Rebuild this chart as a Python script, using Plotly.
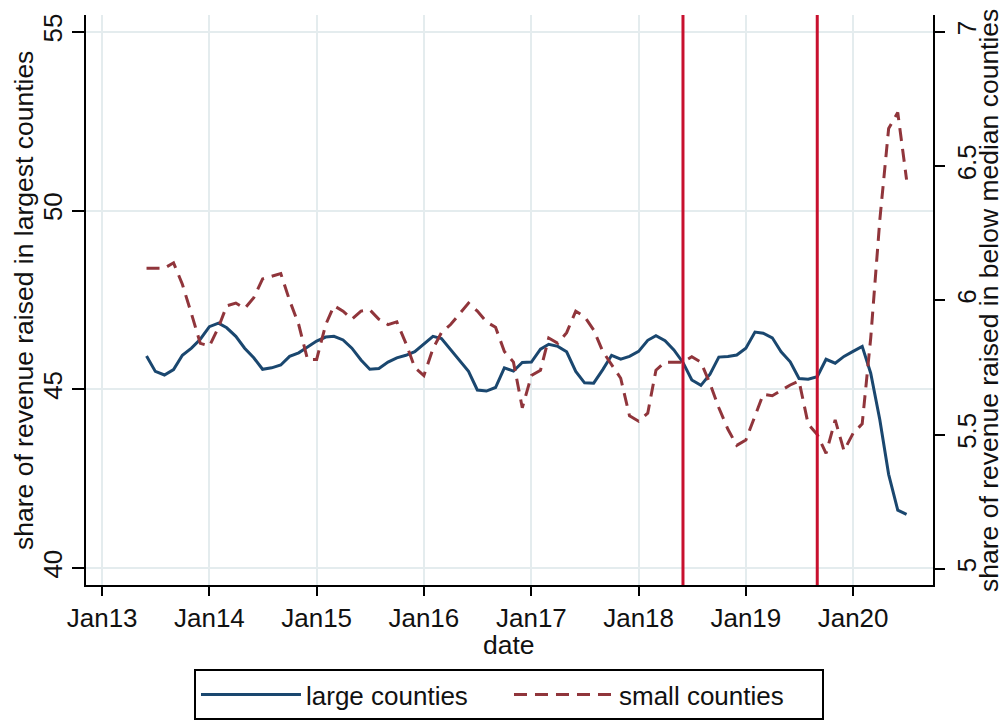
import pandas as pd
import plotly.graph_objects as go

# Monthly observations, Jun 2013 - Jul 2020
dates = pd.date_range("2013-06-01", "2020-07-01", freq="MS")

# Share of revenue raised in the largest counties (left axis)
large_counties = [
    45.93, 45.50, 45.40, 45.55, 45.95, 46.15, 46.40,                       # 2013
    46.75, 46.85, 46.72, 46.48, 46.15, 45.88, 45.56, 45.60, 45.68, 45.92, 46.02, 46.18,  # 2014
    46.35, 46.46, 46.48, 46.38, 46.15, 45.82, 45.56, 45.58, 45.76, 45.88, 45.95, 46.05,  # 2015
    46.27, 46.48, 46.42, 46.10, 45.80, 45.50, 44.98, 44.95, 45.05, 45.60, 45.51, 45.75,  # 2016
    45.76, 46.12, 46.26, 46.20, 46.05, 45.50, 45.18, 45.17, 45.55, 45.95, 45.84, 45.92,  # 2017
    46.06, 46.37, 46.50, 46.36, 46.10, 45.75, 45.26, 45.11, 45.42, 45.90, 45.92, 45.96,  # 2018
    46.15, 46.60, 46.57, 46.44, 46.05, 45.77, 45.30, 45.28, 45.35, 45.84, 45.73, 45.92,  # 2019
    46.06, 46.20, 45.45, 44.15, 42.62, 41.62, 41.50,                       # 2020
]

# Share of revenue raised in below-median counties (right axis)
small_counties = [
    6.12, 6.12, 6.12, 6.14, 6.06, 5.95, 5.84,                              # 2013
    5.83, 5.90, 5.98, 5.99, 5.97, 6.01, 6.08, 6.09, 6.10, 6.00, 5.91, 5.78,  # 2014
    5.78, 5.91, 5.98, 5.96, 5.93, 5.96, 5.965, 5.93, 5.91, 5.92, 5.84, 5.75,  # 2015
    5.72, 5.82, 5.88, 5.91, 5.95, 5.99, 5.96, 5.92, 5.90, 5.81, 5.77, 5.60,  # 2016
    5.72, 5.74, 5.86, 5.84, 5.88, 5.96, 5.94, 5.89, 5.81, 5.76, 5.71, 5.57,  # 2017
    5.55, 5.58, 5.74, 5.77, 5.77, 5.77, 5.79, 5.77, 5.69, 5.60, 5.52, 5.46,  # 2018
    5.48, 5.57, 5.65, 5.645, 5.665, 5.685, 5.70, 5.54, 5.50, 5.43, 5.555, 5.44,  # 2019
    5.505, 5.54, 5.86, 6.30, 6.64, 6.70, 6.45,                             # 2020
]

# Event markers
event_dates = ["2018-06-01", "2019-09-01"]

# Axis ticks
x_tick_dates = [f"{y}-01-01" for y in range(2013, 2021)]
x_tick_text = [f"Jan{str(y)[2:]}" for y in range(2013, 2021)]
left_ticks = [40, 45, 50, 55]
right_ticks = [5, 5.5, 6, 6.5, 7]
right_tick_text = ["5", "5.5", "6", "6.5", "7"]

# Axis titles
x_title = "date"
left_title = "share of revenue raised in largest counties"
right_title = "share of revenue raised in below median counties"

FONT = "Liberation Sans, Arial, sans-serif"
TICK_FS = 26
TITLE_FS = 26.5
LEGEND_FS = 26
NAVY = "#1A476F"
MAROON = "#90353B"
CRIMSON = "#C8102E"
GRID = "#E4ECEE"
INK = "#111111"

fig = go.Figure()
fig.add_trace(go.Scatter(
    x=dates, y=large_counties, name="large counties", mode="lines",
    line=dict(color=NAVY, width=3), yaxis="y",
))
fig.add_trace(go.Scatter(
    x=dates, y=small_counties, name="small counties", mode="lines",
    line=dict(color=MAROON, width=3, dash="13px,8px"), yaxis="y2",
))

for d in event_dates:
    fig.add_shape(type="line", xref="x", yref="paper", x0=d, x1=d, y0=0, y1=1,
                  line=dict(color=CRIMSON, width=3), layer="above")

# Axis titles placed in the margins
title_font = dict(family=FONT, size=TITLE_FS, color=INK)
fig.add_annotation(text=left_title, textangle=-90, xref="paper", yref="paper",
                   x=-0.0732, y=0.5, xanchor="center", yanchor="middle",
                   showarrow=False, font=title_font)
fig.add_annotation(text=right_title, textangle=-90, xref="paper", yref="paper",
                   x=1.0661, y=0.5, xanchor="center", yanchor="middle",
                   showarrow=False, font=title_font)
fig.add_annotation(text=x_title, xref="paper", yref="paper",
                   x=0.4994, y=-0.1045, xanchor="center", yanchor="middle",
                   showarrow=False, font=title_font)

axis_common = dict(
    showline=True, linecolor="black", linewidth=2,
    ticks="outside", tickwidth=2, tickcolor="black",
    zeroline=False, automargin=False,
    tickfont=dict(family=FONT, size=TICK_FS, color=INK),
)

fig.update_layout(
    width=1004, height=722,
    margin=dict(l=86, r=71, t=15, b=137, autoexpand=False),
    paper_bgcolor="white", plot_bgcolor="white",
    font=dict(family=FONT, size=TICK_FS, color=INK),
    xaxis=dict(
        type="date", range=["2012-11-07", "2020-09-29"],
        tickvals=x_tick_dates, ticktext=x_tick_text, ticklen=9,
        showgrid=True, gridcolor=GRID, gridwidth=2,
        **axis_common,
    ),
    yaxis=dict(
        range=[39.525, 55.47],
        tickvals=left_ticks, tickangle=-90, ticklen=12,
        showgrid=True, gridcolor=GRID, gridwidth=2,
        **axis_common,
    ),
    yaxis2=dict(
        overlaying="y", side="right",
        range=[4.94, 7.063],
        tickvals=right_ticks, ticktext=right_tick_text, tickangle=-90, ticklen=10,
        showgrid=False,
        **axis_common,
    ),
    legend=dict(
        orientation="h", x=0.4994, xanchor="center", y=-0.1474, yanchor="top",
        bordercolor="black", borderwidth=2, bgcolor="white",
        font=dict(size=LEGEND_FS), itemwidth=100, entrywidth=198,
    ),
    showlegend=True,
)

fig.write_html("out.html")
